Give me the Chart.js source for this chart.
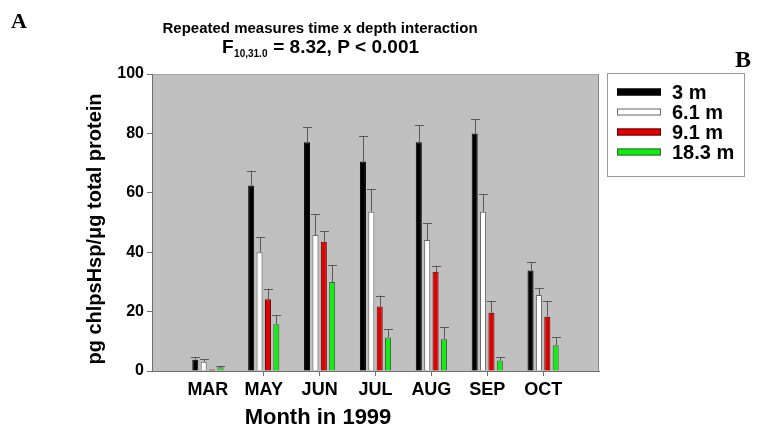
<!DOCTYPE html>
<html>
<head>
<meta charset="utf-8">
<script src="https://cdn.jsdelivr.net/npm/chart.js@4.4.1/dist/chart.umd.min.js"></script>
<style>
  html, body { margin: 0; padding: 0; background: #fff; }
  #wrap { width: 769px; height: 435px; position: relative; }
</style>
</head>
<body>
<div id="wrap"><canvas id="c" width="769" height="435"></canvas></div>
<script>
// Sampling months and depths
const months = ['MAR', 'MAY', 'JUN', 'JUL', 'AUG', 'SEP', 'OCT'];
const depths = ['3 m', '6.1 m', '9.1 m', '18.3 m'];

// Mean chloroplast Hsp (pg per µg total protein) and standard errors, per depth
const mean3m  = [3.8, 62.5, 77.0, 70.5, 77.0, 80.0, 33.8];
const se3m    = [1.0,  5.0,  5.0,  8.5,  5.8,  4.8,  2.8];
const mean6m  = [3.1, 40.0, 45.8, 53.6, 44.1, 53.6, 25.6];
const se6m    = [0.9,  5.0,  7.0,  7.7,  5.8,  5.9,  2.2];
const mean9m  = [0.5, 24.2, 43.5, 21.7, 33.4, 19.6, 18.3];
const se9m    = [0.0,  3.5,  3.6,  3.7,  2.1,  4.0,  5.3];
const mean18m = [1.3, 15.7, 30.0, 11.3, 10.7,  3.5,  8.7];
const se18m   = [0.5,  3.1,  5.7,  2.8,  4.2,  1.1,  2.6];

const yTicks = [0, 20, 40, 60, 80, 100];

const fills   = ['#000000', '#ffffff', '#e00000', '#11ee11'];
const strokes = ['#000000', '#666666', '#5a0000', '#3c5a3c'];

// Empty slots either side so the month ticks sit at 1..7 of an 8-wide axis
const pad = arr => [null, ...arr, null];
const labels = pad(months);

const means = [mean3m, mean6m, mean9m, mean18m];
const errs  = [se3m, se6m, se9m, se18m];

const datasets = depths.map((d, i) => ({
  label: d,
  data: pad(means[i]),
  errors: pad(errs[i]),
  backgroundColor: fills[i],
  borderColor: strokes[i],
  borderWidth: 1,
  categoryPercentage: 0.6,
  barPercentage: 0.72
}));

const FONT = '"Liberation Sans", Arial, sans-serif';

// Gray plotting panel with its frame
const panelPlugin = {
  id: 'panel',
  beforeDraw(chart) {
    const { ctx, chartArea: a } = chart;
    ctx.save();
    ctx.fillStyle = '#c0c0c0';
    ctx.fillRect(a.left, a.top, a.right - a.left, a.bottom - a.top);
    ctx.lineWidth = 1;
    ctx.strokeStyle = '#a4a4a4';
    ctx.beginPath();
    ctx.moveTo(a.left, a.top + 0.5);
    ctx.lineTo(a.right, a.top + 0.5);
    ctx.stroke();
    ctx.strokeStyle = '#858585';
    ctx.beginPath();
    ctx.moveTo(a.right - 0.5, a.top);
    ctx.lineTo(a.right - 0.5, a.bottom);
    ctx.stroke();
    ctx.restore();
  }
};

// Upper standard-error whiskers with caps
const errorBarPlugin = {
  id: 'errorBars',
  afterDatasetsDraw(chart) {
    const { ctx } = chart;
    const yScale = chart.scales.y;
    ctx.save();
    ctx.strokeStyle = '#5a5a5a';
    ctx.lineWidth = 1;
    chart.data.datasets.forEach((ds, di) => {
      const meta = chart.getDatasetMeta(di);
      meta.data.forEach((bar, idx) => {
        const v = ds.data[idx];
        const e = ds.errors[idx];
        if (v == null || e == null || e <= 0) return;
        const x = Math.round(bar.x) + 0.5;
        const yTop = yScale.getPixelForValue(v);
        const yErr = yScale.getPixelForValue(v + e);
        ctx.beginPath();
        ctx.moveTo(x, yTop);
        ctx.lineTo(x, yErr);
        ctx.moveTo(x - 4.5, Math.round(yErr) + 0.5);
        ctx.lineTo(x + 4.5, Math.round(yErr) + 0.5);
        ctx.stroke();
      });
    });
    ctx.restore();
  }
};

// Titles, axis titles, panel letters and the boxed legend
const annotationPlugin = {
  id: 'annotations',
  afterDraw(chart) {
    const { ctx } = chart;
    ctx.save();
    ctx.fillStyle = '#000';
    ctx.textBaseline = 'alphabetic';

    ctx.font = 'bold 22px "Liberation Serif", "Times New Roman", serif';
    ctx.textAlign = 'left';
    ctx.fillText('A', 11, 28);
    ctx.font = 'bold 24px "Liberation Serif", "Times New Roman", serif';
    ctx.fillText('B', 735, 67);

    const cx = 320;
    ctx.font = 'bold 15px ' + FONT;
    ctx.textAlign = 'center';
    ctx.fillText('Repeated measures time x depth interaction', cx, 33);

    // F statistic with subscripted degrees of freedom
    const main1 = 'F';
    const sub = '10,31.0';
    const main2 = ' = 8.32, P < 0.001';
    const bigFont = 'bold 19px ' + FONT;
    const subFont = 'bold 10px ' + FONT;
    ctx.font = bigFont;
    const w1 = ctx.measureText(main1).width;
    const w3 = ctx.measureText(main2).width;
    ctx.font = subFont;
    const w2 = ctx.measureText(sub).width;
    const x0 = cx - (w1 + w2 + w3) / 2;
    ctx.textAlign = 'left';
    ctx.font = bigFont;
    ctx.fillText(main1, x0, 53);
    ctx.font = subFont;
    ctx.fillText(sub, x0 + w1 + 0.5, 57);
    ctx.font = bigFont;
    ctx.fillText(main2, x0 + w1 + w2 + 1, 53);

    // Axis titles
    ctx.textAlign = 'center';
    ctx.textBaseline = 'middle';
    ctx.font = 'bold 22px ' + FONT;
    ctx.fillText('Month in 1999', 318, 418);
    ctx.font = 'bold 20px ' + FONT;
    ctx.save();
    ctx.translate(95, 229);
    ctx.rotate(-Math.PI / 2);
    ctx.fillText('pg chlpsHsp/\u03bcg total protein', 0, 0);
    ctx.restore();

    // Legend
    const lx = 607.5, ly = 73.5, lw = 137, lh = 103;
    ctx.fillStyle = '#ffffff';
    ctx.fillRect(lx, ly, lw, lh);
    ctx.strokeStyle = '#9a9a9a';
    ctx.lineWidth = 1;
    ctx.strokeRect(lx, ly, lw, lh);
    ctx.font = 'bold 20px ' + FONT;
    ctx.textAlign = 'left';
    ctx.textBaseline = 'middle';
    chart.data.datasets.forEach((ds, i) => {
      const yc = 92 + i * 20;
      ctx.fillStyle = ds.backgroundColor;
      ctx.fillRect(617, yc - 3.5, 44, 7);
      ctx.strokeStyle = ds.borderColor;
      ctx.strokeRect(617.5, yc - 3, 43, 6);
      ctx.fillStyle = '#000';
      ctx.fillText(ds.label, 672, yc + 1);
    });
    ctx.restore();
  }
};

new Chart(document.getElementById('c'), {
  type: 'bar',
  data: { labels, datasets },
  plugins: [panelPlugin, errorBarPlugin, annotationPlugin],
  options: {
    responsive: false,
    animation: false,
    layout: { padding: { left: 80, top: 74, right: 170, bottom: 0 } },
    plugins: {
      legend: { display: false },
      title: { display: false },
      tooltip: { enabled: false }
    },
    scales: {
      x: {
        type: 'category',
        offset: false,
        grid: {
          offset: false,
          drawOnChartArea: false,
          drawTicks: true,
          tickLength: 5,
          color: ctx => (ctx.index === 0 || ctx.index === labels.length - 1) ? 'rgba(0,0,0,0)' : '#707070'
        },
        border: { display: true, color: '#707070', width: 1 },
        ticks: {
          color: '#000',
          font: { family: FONT, size: 18, weight: 'bold' },
          padding: 3,
          maxRotation: 0,
          autoSkip: false
        },
        afterFit(scale) { scale.height = 64; }
      },
      y: {
        min: 0,
        max: 100,
        afterBuildTicks(scale) { scale.ticks = yTicks.map(v => ({ value: v })); },
        grid: {
          drawOnChartArea: false,
          drawTicks: true,
          tickLength: 5,
          color: '#707070'
        },
        border: { display: true, color: '#707070', width: 1 },
        ticks: {
          color: '#000',
          font: { family: FONT, size: 16, weight: 'bold' },
          padding: 3
        },
        afterFit(scale) { scale.width = 72; }
      }
    }
  }
});
</script>
</body>
</html>
